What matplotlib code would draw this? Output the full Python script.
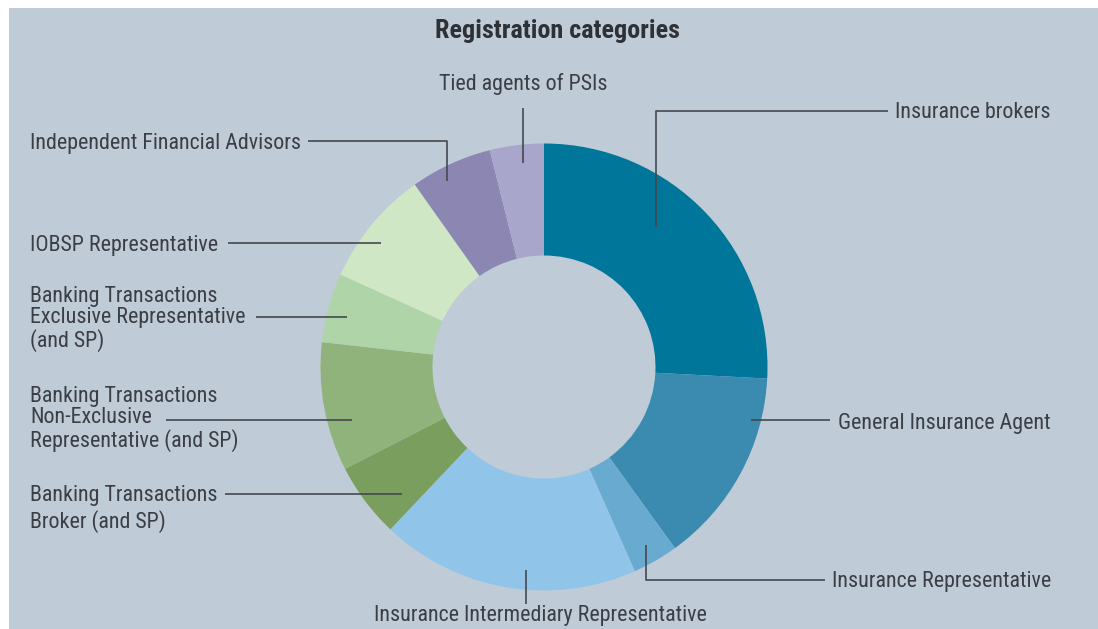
import matplotlib
matplotlib.use("Agg")
import matplotlib.pyplot as plt
from matplotlib.patches import Rectangle

# 数据: 注册类别及其份额 (%), 从图中估计
categories = [
    "Insurance brokers",
    "General Insurance Agent",
    "Insurance Representative",
    "Insurance Intermediary Representative",
    "Banking Transactions\nBroker (and SP)",
    "Banking Transactions\nNon-Exclusive\nRepresentative (and SP)",
    "Banking Transactions\nExclusive Representative\n(and SP)",
    "IOBSP Representative",
    "Independent Financial Advisors",
    "Tied agents of PSIs",
]
shares = [25.8, 14.2, 3.3, 18.7, 5.4, 9.3, 5.0, 8.4, 5.9, 3.9]
colors = ["#00769a", "#3b8ab0", "#69abd0", "#90c5e9", "#7a9e5d",
          "#90b37c", "#afd4a8", "#cfe7c5", "#8c86b2", "#a9a6cc"]

W, H = 1098, 629
BG = "#bfcbd7"
TXT = "#3b3e44"
FONT = ["Roboto Condensed", "DejaVu Sans Condensed", "DejaVu Sans"]

fig = plt.figure(figsize=(W / 100, H / 100), dpi=100, facecolor="white")
ax = fig.add_axes([0, 0, 1, 1])
ax.patch.set_alpha(0)

# 像素坐标, y 轴向下 -> startangle=-90 对应屏幕上方, 逆时针(数据)即屏幕顺时针
ax.pie(shares, colors=colors, startangle=-90, counterclock=True,
       center=(544, 367), radius=223.5,
       wedgeprops=dict(width=112, edgecolor="none"))
ax.set_xlim(0, W)
ax.set_ylim(H, 0)
ax.set_aspect("equal")
ax.axis("off")

# 背景面板
ax.add_patch(Rectangle((9, 8), W, H, facecolor=BG, edgecolor="none", zorder=-5))

# 标签位置与引线 (像素)
layout = [
    dict(xy=(895, 113), ha="left", line=[(888, 111), (656, 111), (656, 227)]),
    dict(xy=(838, 423), ha="left", line=[(830, 420), (751, 420)]),
    dict(xy=(832, 581), ha="left", line=[(825, 580), (646, 580), (646, 545)]),
    dict(xy=(540, 616), ha="center", line=[(526, 604), (526, 570)]),
    dict(xy=(30, 509), ha="left", line=[(225, 494), (402, 494)], ls=1.22),
    dict(xy=(30, 419), ha="left", line=[(166, 420), (352, 420)], ls=1.05),
    dict(xy=(30, 319), ha="left", line=[(256, 317), (347, 317)], ls=1.05),
    dict(xy=(30, 245), ha="left", line=[(228, 243), (381, 243)]),
    dict(xy=(30, 143), ha="left", line=[(308, 141), (447, 141), (447, 181)]),
    dict(xy=(523, 84), ha="center", line=[(523, 108), (523, 163)]),
]

for name, lay in zip(categories, layout):
    ax.text(lay["xy"][0], lay["xy"][1], name, ha=lay["ha"], va="center",
            fontsize=15.8, color=TXT, family=FONT,
            linespacing=lay.get("ls", 1.1))
    xs = [p[0] for p in lay["line"]]
    ys = [p[1] for p in lay["line"]]
    ax.plot(xs, ys, color="#45484d", lw=1.2, solid_capstyle="butt")

ax.text(557, 31, "Registration categories", ha="center", va="center",
        fontsize=18.8, fontweight="bold", color="#2e3136", family=FONT)

fig.savefig("out.png", dpi=100, facecolor="white")
